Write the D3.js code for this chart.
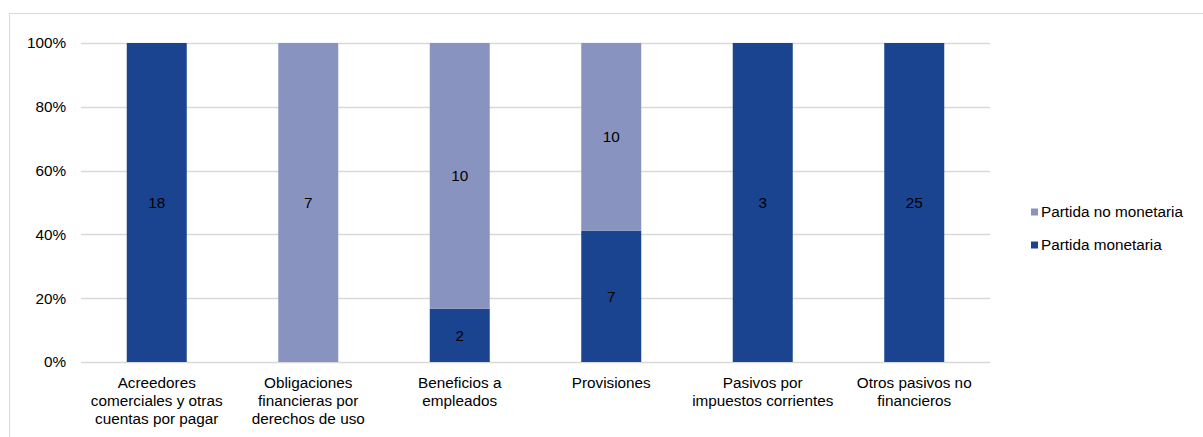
<!DOCTYPE html>
<html><head><meta charset="utf-8">
<script src="https://cdn.jsdelivr.net/npm/d3@7"></script>
<style>body{margin:0;background:#fff;} svg{display:block;font-family:"Liberation Sans",Arial,sans-serif;}</style>
</head><body>
<svg id="c" width="1203" height="437"></svg>
<script>
const categories = [
  ["Acreedores","comerciales y otras","cuentas por pagar"],
  ["Obligaciones","financieras por","derechos de uso"],
  ["Beneficios a","empleados"],
  ["Provisiones"],
  ["Pasivos por","impuestos corrientes"],
  ["Otros pasivos no","financieros"]
];
const monetaria = [18, 0, 2, 7, 3, 25];
const noMonetaria = [0, 7, 10, 10, 0, 0];
const seriesNames = ["Partida monetaria", "Partida no monetaria"];
const colors = ["#1a448f", "#8894bf"];
const yTicks = [0, 0.2, 0.4, 0.6, 0.8, 1];

(function(){
const FS = 15.3;
const svg = d3.select("#c");
svg.append("rect").attr("x",9.5).attr("y",13.5).attr("width",1200).attr("height",430)
  .attr("fill","none").attr("stroke","#d9d9d9");

const pl = 81, pr = 990, pt = 43, pb = 362;
const idx = d3.range(categories.length);
const x = d3.scaleBand().domain(idx).range([pl, pr]).paddingInner(0.604).paddingOuter(0.302);
const y = d3.scaleLinear().domain([0,1]).range([pb, pt]);

svg.append("g").selectAll("line").data(yTicks).join("line")
  .attr("x1",pl).attr("x2",pr)
  .attr("y1",d=>Math.round(y(d))+0.5).attr("y2",d=>Math.round(y(d))+0.5)
  .attr("stroke","#d9d9d9").attr("stroke-width",1.5);

svg.append("g").selectAll("text").data(yTicks).join("text")
  .attr("x",66).attr("y",d=>y(d)).attr("dy","0.35em").attr("text-anchor","end")
  .attr("font-size",FS).attr("fill","#000").text(d3.format(".0%"));

const stackData = idx.map(i => {
  const tot = monetaria[i] + noMonetaria[i];
  return {i, vals:[monetaria[i], noMonetaria[i]], tot};
});
const g = svg.append("g");
stackData.forEach(d => {
  let acc = 0;
  d.vals.forEach((v, s) => {
    if (v <= 0) return;
    const y0 = acc / d.tot, y1 = (acc + v) / d.tot;
    acc += v;
    g.append("rect").attr("x", x(d.i)).attr("width", x.bandwidth())
      .attr("y", y(y1)).attr("height", y(y0) - y(y1)).attr("fill", colors[s]);
    g.append("text").attr("x", x(d.i) + x.bandwidth()/2).attr("y", y((y0+y1)/2))
      .attr("dy","0.35em").attr("text-anchor","middle").attr("font-size",FS)
      .attr("fill","#000").text(v);
  });
});

const xl = svg.append("g");
categories.forEach((lines, i) => {
  const t = xl.append("text").attr("text-anchor","middle").attr("font-size",FS).attr("fill","#000");
  lines.forEach((ln, j) => {
    t.append("tspan").attr("x", x(i) + x.bandwidth()/2).attr("y", 388 + j*18).text(ln);
  });
});

const legendItems = [{name: seriesNames[1], c: colors[1], y: 212}, {name: seriesNames[0], c: colors[0], y: 245}];
const lg = svg.append("g");
legendItems.forEach(it => {
  lg.append("rect").attr("x",1031).attr("y",it.y-3.5).attr("width",7).attr("height",7).attr("fill",it.c);
  lg.append("text").attr("x",1041).attr("y",it.y).attr("dy","0.35em").attr("font-size",FS).attr("fill","#000").text(it.name);
});
})();
</script>
</body></html>
